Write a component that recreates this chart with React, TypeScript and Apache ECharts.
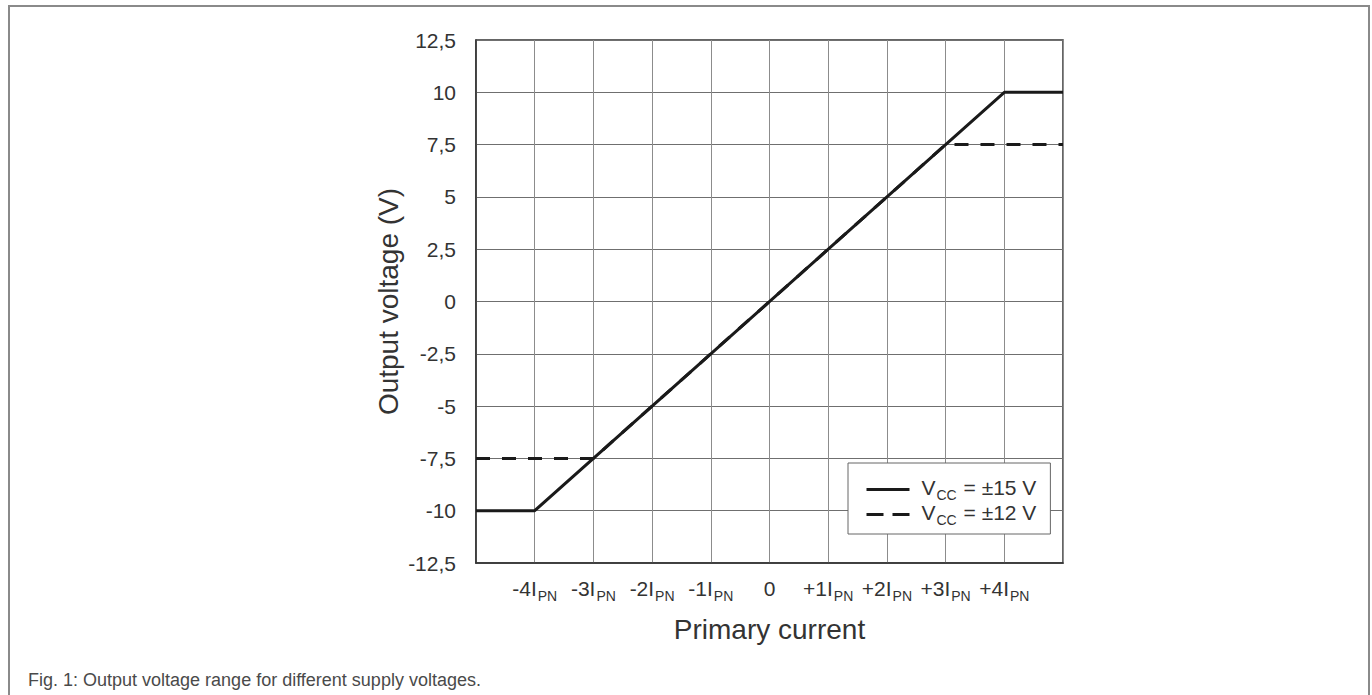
import React, { useEffect, useRef } from "react";
import * as echarts from "echarts";

// ---- data ----
const xTickValues = [-4, -3, -2, -1, 0, 1, 2, 3, 4];
const xTickMain = ["-4I", "-3I", "-2I", "-1I", "0", "+1I", "+2I", "+3I", "+4I"];
const xTickSub = ["PN", "PN", "PN", "PN", "", "PN", "PN", "PN", "PN"];

const yTickValues = [-12.5, -10, -7.5, -5, -2.5, 0, 2.5, 5, 7.5, 10, 12.5];
const yTickLabels = ["-12,5", "-10", "-7,5", "-5", "-2,5", "0", "2,5", "5", "7,5", "10", "12,5"];

const seriesNames = ["VCC = ±15 V", "VCC = ±12 V"];
const vcc15X = [-5, -4, 4, 5];
const vcc15Y = [-10, -10, 10, 10];
const vcc12X = [-5, -3, 3, 5];
const vcc12Y = [-7.5, -7.5, 7.5, 7.5];

const xAxisTitle = "Primary current";
const yAxisTitle = "Output voltage (V)";
const caption = "Fig. 1: Output voltage range for different supply voltages.";

const FONT = "'Liberation Sans', Arial, Helvetica, sans-serif";
const TXT = "#333";

export default function App() {
  const ref = useRef<HTMLDivElement>(null);

  useEffect(() => {
    if (!ref.current) return;
    const chart = echarts.init(ref.current, null, { renderer: "svg" });

    const pairs = (xs: number[], ys: number[]) => xs.map((x, i) => [x, ys[i]]);

    const option: any = {
      animation: false,
      backgroundColor: "#fff",
      textStyle: { fontFamily: FONT },
      grid: {
        left: 476,
        top: 40,
        right: 309,
        bottom: 132,
        show: true,
        borderColor: "#333",
        borderWidth: 1.5,
        backgroundColor: "transparent",
      },
      xAxis: {
        type: "value",
        min: -5,
        max: 5,
        interval: 1,
        name: xAxisTitle,
        nameLocation: "middle",
        nameGap: 52,
        nameTextStyle: { fontSize: 28, color: TXT, fontFamily: FONT },
        axisLine: { show: true, onZero: false, lineStyle: { color: "#333", width: 1.5 } },
        axisTick: { show: false },
        splitLine: { show: true, lineStyle: { color: "#8c8c8c", width: 1 } },
        axisLabel: {
          margin: 15,
          color: TXT,
          fontFamily: FONT,
          formatter: (v: number) => {
            const i = xTickValues.findIndex((t) => Math.abs(t - v) < 1e-6);
            if (i < 0) return "";
            return xTickSub[i]
              ? `{m|${xTickMain[i]}}{s|${xTickSub[i]}}`
              : `{m|${xTickMain[i]}}`;
          },
          rich: {
            m: { fontSize: 21, color: TXT, fontFamily: FONT, verticalAlign: "top" },
            s: { fontSize: 14, color: TXT, fontFamily: FONT, verticalAlign: "top", padding: [11, 0, 0, 1] },
          },
        },
      },
      yAxis: {
        type: "value",
        min: -12.5,
        max: 12.5,
        interval: 2.5,
        name: yAxisTitle,
        nameLocation: "middle",
        nameGap: 74,
        nameTextStyle: { fontSize: 28, color: TXT, fontFamily: FONT },
        axisLine: { show: true, onZero: false, lineStyle: { color: "#333", width: 1.5 } },
        axisTick: { show: false },
        splitLine: { show: true, lineStyle: { color: "#6f6f6f", width: 1 } },
        axisLabel: {
          margin: 20,
          fontSize: 21,
          color: TXT,
          fontFamily: FONT,
          formatter: (v: number) => {
            const i = yTickValues.findIndex((t) => Math.abs(t - v) < 1e-6);
            return i < 0 ? "" : yTickLabels[i];
          },
        },
      },
      legend: {
        show: true,
        orient: "vertical",
        left: 848,
        top: 463,
        padding: [14, 14, 7, 17],
        itemGap: 0,
        itemWidth: 43,
        itemHeight: 14,
        backgroundColor: "#fff",
        borderColor: "#666",
        borderWidth: 1,
        borderRadius: 0,
        itemStyle: { opacity: 0, borderWidth: 0 },
        data: [
          { name: seriesNames[0], lineStyle: { type: "solid", width: 3, color: "#1a1a1a" } },
          { name: seriesNames[1], lineStyle: { type: [17, 9], width: 3, color: "#1a1a1a" } },
        ],
        formatter: (name: string) => `{p|}{m|V}{s|CC}{m|${name.slice(3)}}`,
        textStyle: {
          fontFamily: FONT,
          rich: {
            p: { width: 7, fontSize: 21 },
            m: { fontSize: 21, color: TXT, fontFamily: FONT, verticalAlign: "top" },
            s: { fontSize: 14, color: TXT, fontFamily: FONT, verticalAlign: "top", padding: [11, 1, 0, 1] },
          },
        },
      },
      series: [
        {
          name: seriesNames[0],
          type: "line",
          data: pairs(vcc15X, vcc15Y),
          symbol: "none",
          lineStyle: { color: "#1a1a1a", width: 3, type: "solid" },
          itemStyle: { color: "#1a1a1a" },
          z: 3,
        },
        {
          name: seriesNames[1],
          type: "line",
          data: pairs(vcc12X, vcc12Y),
          symbol: "none",
          lineStyle: { color: "#1a1a1a", width: 3, type: [14, 12] },
          itemStyle: { color: "#1a1a1a" },
          z: 3,
        },
      ],
      graphic: [
        {
          type: "rect",
          shape: { x: 9, y: 6, width: 1360, height: 720 },
          style: { fill: "none", stroke: "#8a8a8a", lineWidth: 2 },
          silent: true,
        },
        {
          type: "text",
          x: 28,
          y: 680,
          style: {
            text: caption,
            fill: "#4a4a4a",
            fontSize: 18,
            fontFamily: FONT,
            verticalAlign: "middle",
          },
          silent: true,
        },
      ],
    };

    chart.setOption(option);
    return () => chart.dispose();
  }, []);

  return (
    <div
      ref={ref}
      style={{ position: "fixed", left: 0, top: 0, width: 1372, height: 695, background: "#fff" }}
    />
  );
}
